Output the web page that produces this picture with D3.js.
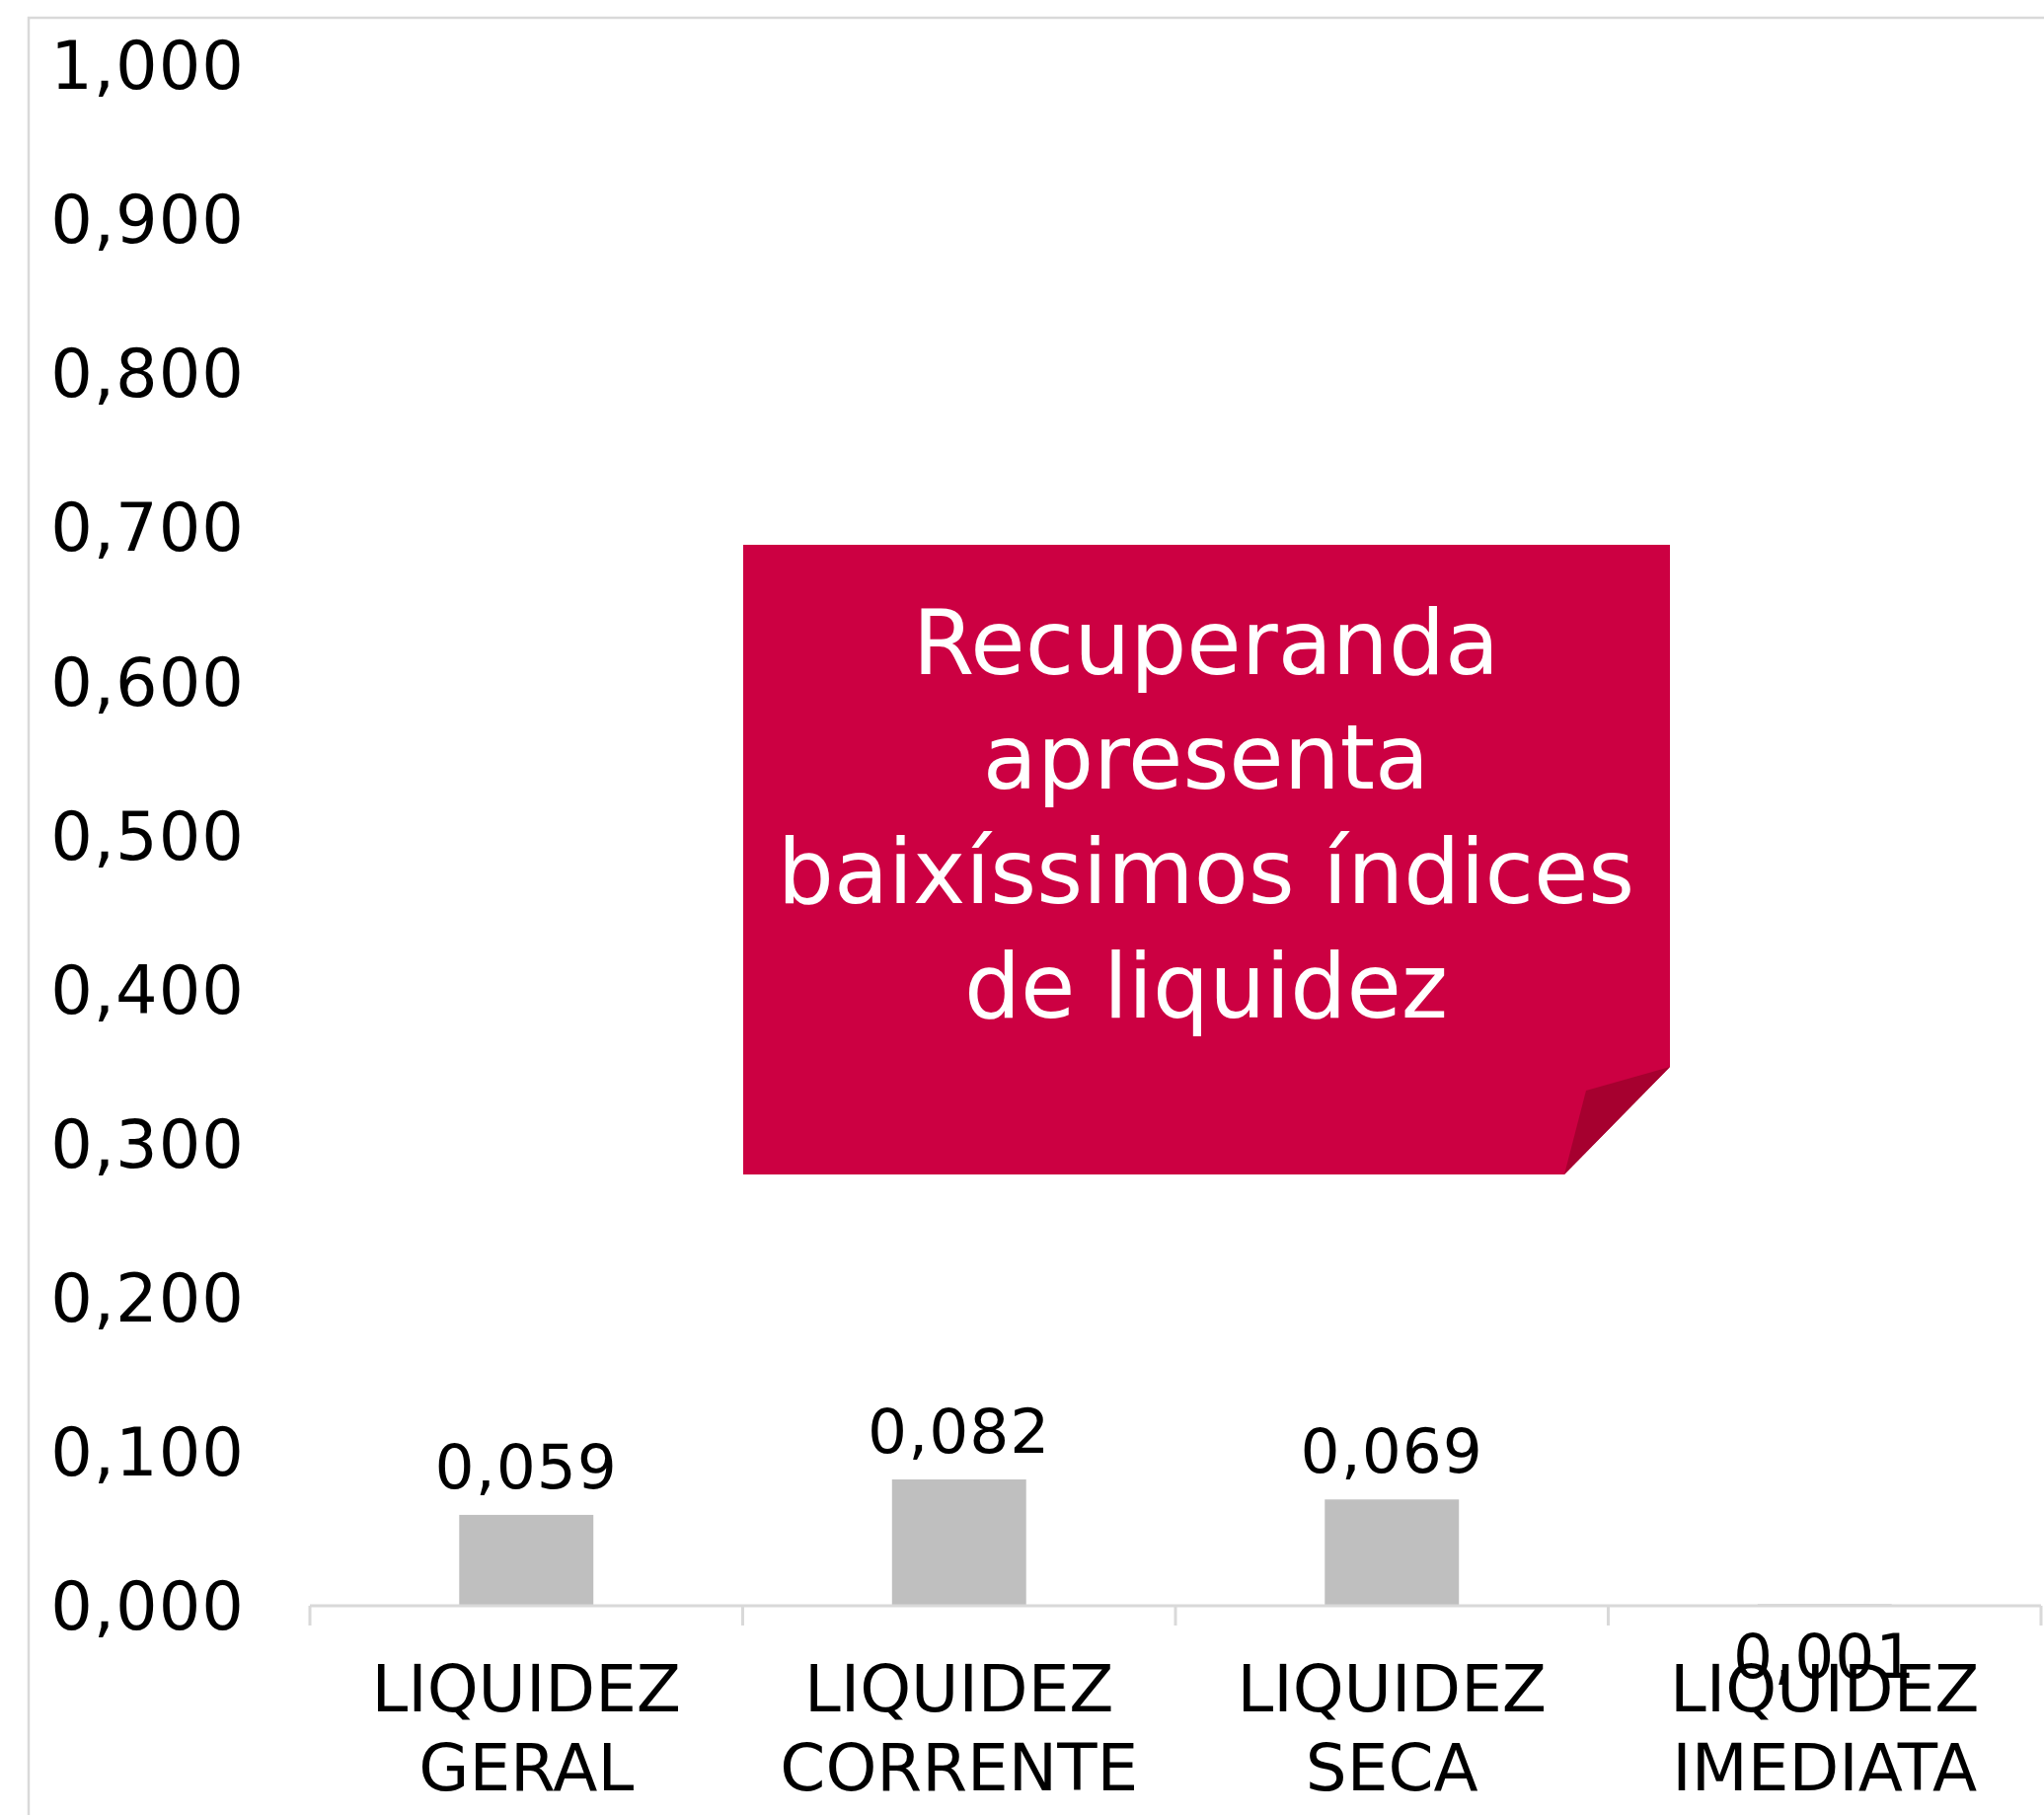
<!DOCTYPE html>
<html>
<head>
<meta charset="utf-8">
<script src="https://cdn.jsdelivr.net/npm/d3@7/dist/d3.min.js"></script>
<style>
  html, body { margin: 0; padding: 0; background: #ffffff; }
  svg { display: block; }
</style>
</head>
<body>
<script>
// ---- data ----
const categories = ["LIQUIDEZ GERAL", "LIQUIDEZ CORRENTE", "LIQUIDEZ SECA", "LIQUIDEZ IMEDIATA"];
const values = [0.059, 0.082, 0.069, 0.001];
const yTicks = [0, 0.1, 0.2, 0.3, 0.4, 0.5, 0.6, 0.7, 0.8, 0.9, 1.0];
const calloutLines = ["Recuperanda", "apresenta", "baixíssimos índices", "de liquidez"];

// ---- layout ----
const W = 2071, H = 1839;
const font = "'DejaVu Sans', sans-serif";
const fmt = v => d3.format(".3f")(v).replace(".", ",");

const svg = d3.select("body").append("svg")
  .attr("width", W).attr("height", H);

// outer frame (extends beyond canvas on right/bottom)
svg.append("rect")
  .attr("x", 29).attr("y", 18).attr("width", 2100).attr("height", 1900)
  .attr("fill", "none").attr("stroke", "#d9d9d9").attr("stroke-width", 2.5);

const x = d3.scaleBand().domain(categories).range([314, 2068]).padding(0);
const y = d3.scaleLinear().domain([0, 1]).range([1627, 66]);
const barFrac = 0.31;

// y tick labels (no axis line)
svg.append("g").selectAll("text").data(yTicks).join("text")
  .attr("x", 248).attr("y", d => y(d))
  .attr("dy", "0.36em")
  .attr("text-anchor", "end")
  .attr("font-family", font).attr("font-size", 67)
  .attr("letter-spacing", 1)
  .attr("fill", "#000")
  .text(fmt);

// bars
svg.append("g").selectAll("rect").data(values).join("rect")
  .attr("x", (d, i) => x(categories[i]) + x.bandwidth() * (1 - barFrac) / 2)
  .attr("width", x.bandwidth() * barFrac)
  .attr("y", d => y(d))
  .attr("height", d => y(0) - y(d))
  .attr("fill", "#bfbfbf");

// x axis
const xAxis = d3.axisBottom(x).tickSize(0).tickFormat("");
const gx = svg.append("g").attr("transform", `translate(0,${y(0)})`).call(xAxis);
gx.select(".domain").remove();
svg.append("line")
  .attr("x1", x.range()[0]).attr("x2", x.range()[1])
  .attr("y1", y(0)).attr("y2", y(0))
  .attr("stroke", "#d9d9d9").attr("stroke-width", 3);
const bounds = categories.map(c => x(c)).concat([x.range()[1]]);
svg.append("g").selectAll("line").data(bounds).join("line")
  .attr("x1", d => d).attr("x2", d => d)
  .attr("y1", y(0)).attr("y2", y(0) + 20)
  .attr("stroke", "#d9d9d9").attr("stroke-width", 3);

// category labels (two lines)
const lab = svg.append("g").selectAll("text").data(categories).join("text")
  .attr("text-anchor", "middle")
  .attr("font-family", font).attr("font-size", 66)
  .attr("fill", "#000");
lab.each(function(c) {
  const parts = c.split(" ");
  const t = d3.select(this);
  parts.forEach((p, k) => {
    t.append("tspan")
      .attr("x", x(c) + x.bandwidth() / 2)
      .attr("y", 1734 + k * 80)
      .text(p);
  });
});

// value labels
svg.append("g").selectAll("text").data(values).join("text")
  .attr("x", (d, i) => x(categories[i]) + x.bandwidth() / 2)
  .attr("y", d => d < 0.01 ? y(0) + 73 : y(d) - 27)
  .attr("text-anchor", "middle")
  .attr("font-family", font).attr("font-size", 63)
  .attr("letter-spacing", 1)
  .attr("fill", "#000")
  .text(fmt);

// callout (folded-corner note)
const cL = 753, cT = 552, cR = 1692, cB = 1190, foldY = 1081, foldX = 1585;
svg.append("path")
  .attr("d", `M${cL},${cT}H${cR}V${foldY}L${foldX},${cB}H${cL}Z`)
  .attr("fill", "#cc0042");
svg.append("path")
  .attr("d", `M${cR},${foldY}L1607,1105L${foldX},${cB}Z`)
  .attr("fill", "#a6002f");
svg.append("g").selectAll("text").data(calloutLines).join("text")
  .attr("x", 1222)
  .attr("y", (d, i) => 683 + i * 116)
  .attr("text-anchor", "middle")
  .attr("font-family", font).attr("font-size", 90)
  .attr("fill", "#ffffff")
  .text(d => d);
</script>
</body>
</html>
